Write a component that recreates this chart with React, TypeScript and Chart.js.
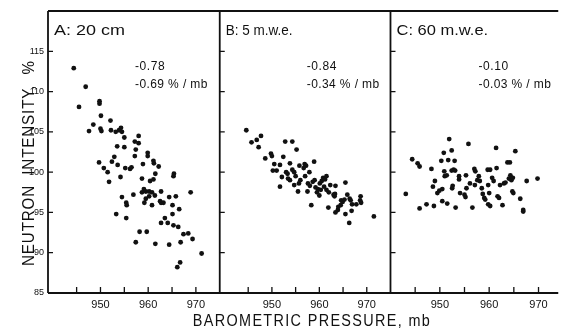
import React, { useEffect, useRef } from 'react';
import { Chart, registerables } from 'chart.js';

Chart.register(...registerables);

// ---- Data ----
const panelIds = ['xA', 'xB', 'xC'];
const panelLabels = ['A: 20 cm', 'B: 5 m.w.e.', 'C: 60 m.w.e.'];
const correlations = ['-0.78', '-0.84', '-0.10'];
const slopes = ['-0.69 % / mb', '-0.34 % / mb', '-0.03 % / mb'];
const xMins = [939, 939, 940];
const xMaxs = [975, 975, 974];
const panelWeights = [173, 172, 169];
const xLabelTicks = [950, 960, 970];
const xMarkTicks = [945, 950, 955, 960, 965, 970];
const yTicks = [85, 90, 95, 100, 105, 110, 115];
const yMin = 85;
const yMax = 120;
const xTitle = 'BAROMETRIC PRESSURE, mb';
const yTitle = 'NEUTRON  INTENSITY,  %';

const pressureA = [944.4, 945.5, 946.9, 947.6, 948.5, 949.8, 949.8, 950.1, 950.0, 950.2, 949.7, 950.7, 951.5, 951.8, 952.1, 952.2, 952.4, 952.9, 953.3, 953.5, 953.6, 953.2, 953.9, 954.3, 954.5, 954.2, 954.5, 955.0, 955.0, 955.2, 955.4, 955.5, 955.4, 956.2, 956.5, 956.9, 957.2, 957.2, 957.4, 957.4, 958.0, 958.0, 958.2, 958.7, 958.9, 958.7, 959.1, 959.5, 959.5, 959.2, 959.7, 959.9, 959.9, 960.2, 960.2, 960.4, 960.8, 960.8, 961.1, 961.2, 961.1, 961.5, 961.4, 961.5, 962.2, 962.5, 962.7, 962.7, 962.7, 963.2, 963.5, 964.1, 964.4, 964.4, 965.1, 965.1, 965.3, 965.4, 965.3, 965.8, 966.3, 966.1, 966.7, 966.5, 966.8, 967.4, 968.4, 968.9, 969.3, 971.2];
const intensityA = [112.9, 108.1, 110.6, 105.1, 105.9, 108.8, 108.5, 107.0, 105.4, 105.1, 101.2, 100.5, 100.0, 98.8, 106.4, 105.2, 101.3, 101.9, 94.8, 103.2, 100.9, 105.0, 105.2, 105.5, 105.0, 99.4, 96.9, 104.3, 103.1, 100.5, 96.2, 95.9, 94.3, 100.4, 100.6, 97.2, 103.8, 102.0, 102.8, 91.3, 104.5, 103.6, 92.6, 97.5, 101.0, 99.2, 97.9, 97.6, 96.7, 96.2, 92.6, 102.4, 102.0, 97.6, 97.0, 98.9, 97.5, 95.9, 101.4, 101.1, 99.1, 99.8, 97.1, 91.1, 100.7, 96.4, 96.2, 97.6, 93.7, 96.2, 94.3, 93.7, 96.9, 91.0, 95.9, 94.8, 99.5, 99.8, 93.4, 97.0, 93.2, 88.2, 88.8, 95.4, 91.3, 92.3, 92.4, 97.5, 91.7, 89.9];

const pressureB = [944.6, 945.7, 946.8, 947.7, 947.2, 948.6, 949.8, 950.0, 950.2, 951.0, 951.7, 952.4, 952.8, 954.3, 955.2, 953.8, 953.0, 953.3, 952.1, 951.7, 953.4, 954.3, 954.7, 954.7, 955.5, 955.7, 956.9, 957.2, 956.7, 957.9, 958.9, 957.6, 957.5, 958.3, 958.6, 959.2, 959.5, 959.7, 960.1, 960.5, 960.8, 961.2, 961.5, 960.0, 961.5, 961.9, 962.3, 963.0, 963.2, 963.3, 963.4, 963.9, 964.0, 963.4, 964.6, 964.9, 965.3, 965.5, 965.9, 966.4, 966.6, 965.5, 966.3, 966.8, 966.9, 967.8, 968.6, 968.7, 968.8, 971.5, 955.0, 956.0, 958.0, 959.0, 960.3, 961.0, 962.0, 964.5, 950.5, 953.8, 955.8, 957.0];
const intensityB = [105.2, 103.7, 104.0, 104.5, 103.1, 101.7, 102.3, 102.0, 100.2, 100.2, 100.9, 101.9, 103.8, 103.8, 102.8, 101.1, 100.0, 99.8, 99.4, 98.2, 99.2, 100.3, 100.0, 98.4, 97.6, 98.6, 101.0, 100.8, 100.5, 100.0, 101.3, 98.6, 97.6, 95.9, 98.8, 98.1, 97.5, 97.9, 98.6, 98.9, 99.3, 99.1, 99.5, 97.1, 97.8, 95.6, 98.4, 97.2, 97.0, 97.3, 98.3, 95.3, 95.7, 95.0, 96.5, 96.3, 96.6, 98.7, 97.2, 96.7, 96.5, 94.8, 93.7, 95.2, 96.0, 96.0, 96.5, 97.0, 96.2, 94.5, 99.5, 99.0, 98.3, 99.0, 97.8, 98.2, 97.5, 95.9, 101.0, 99.0, 100.8, 99.5];

const pressureC = [943.1, 944.4, 945.5, 945.9, 945.9, 947.3, 948.3, 948.8, 948.6, 949.0, 949.5, 949.9, 950.3, 950.8, 950.5, 950.5, 950.9, 951.0, 951.4, 951.5, 951.9, 951.7, 952.4, 952.4, 952.8, 953.1, 952.6, 952.5, 953.0, 953.2, 953.9, 953.9, 954.1, 955.0, 955.2, 955.3, 955.8, 955.4, 956.1, 956.6, 957.0, 957.2, 957.1, 957.6, 957.9, 958.1, 958.5, 958.7, 959.0, 959.2, 959.7, 960.2, 959.8, 960.2, 959.8, 960.0, 960.6, 960.9, 961.4, 961.5, 961.7, 962.0, 962.2, 962.7, 963.0, 963.3, 963.7, 964.2, 964.0, 964.3, 964.5, 964.7, 964.9, 965.3, 964.8, 966.3, 966.9, 966.9, 967.6, 969.8];
const intensityC = [97.3, 101.6, 101.1, 100.7, 95.5, 96.0, 100.4, 95.8, 98.2, 98.9, 97.4, 97.7, 101.4, 102.4, 97.9, 96.4, 100.1, 99.5, 99.6, 96.1, 104.1, 101.5, 102.7, 100.2, 100.3, 100.2, 98.3, 98.0, 101.4, 95.6, 99.1, 99.5, 97.4, 97.2, 96.9, 99.6, 103.5, 98.0, 98.6, 95.6, 100.4, 100.1, 98.4, 99.0, 99.5, 98.9, 98.0, 97.3, 96.8, 96.6, 100.3, 100.3, 96.0, 95.8, 98.4, 97.4, 99.3, 98.9, 103.0, 100.5, 97.0, 96.8, 98.4, 95.9, 98.6, 98.7, 101.2, 101.2, 99.2, 99.6, 99.0, 97.6, 97.4, 102.6, 99.3, 96.7, 95.3, 95.1, 98.9, 99.2];

const pressures = [pressureA, pressureB, pressureC];
const intensities = [intensityA, intensityB, intensityC];

const INK = '#111111';
const labelScaleX = [1.2, 0.9, 1.1];

function drawText(
  ctx: CanvasRenderingContext2D,
  text: string,
  x: number,
  y: number,
  font: string,
  opts: { align?: CanvasTextAlign; scaleX?: number; rotate?: number; spacing?: number } = {}
) {
  ctx.save();
  ctx.font = font;
  ctx.fillStyle = INK;
  ctx.textBaseline = 'alphabetic';
  ctx.textAlign = opts.align || 'left';
  try {
    (ctx as any).letterSpacing = (opts.spacing || 0) + 'px';
  } catch (e) {}
  ctx.translate(x, y);
  if (opts.rotate) ctx.rotate(opts.rotate);
  ctx.scale(opts.scaleX || 1, 1);
  ctx.fillText(text, 0, 0);
  ctx.restore();
}

const framePlugin = {
  id: 'framePlugin',
  afterDraw(chart: any) {
    const ctx: CanvasRenderingContext2D = chart.ctx;
    const area = chart.chartArea;
    const yScale = chart.scales.y;
    ctx.save();
    ctx.strokeStyle = INK;
    ctx.lineWidth = 1.8;
    ctx.beginPath();
    ctx.moveTo(area.left, area.top);
    ctx.lineTo(area.right, area.top);
    ctx.moveTo(area.left, area.bottom);
    ctx.lineTo(area.right, area.bottom);
    panelIds.forEach((id) => {
      const s = chart.scales[id];
      ctx.moveTo(s.left, area.top);
      ctx.lineTo(s.left, area.bottom);
    });
    ctx.stroke();

    ctx.lineWidth = 1.3;
    ctx.beginPath();
    panelIds.forEach((id) => {
      const s = chart.scales[id];
      yTicks.forEach((v) => {
        const py = yScale.getPixelForValue(v);
        if (v === yMin) return;
        ctx.moveTo(s.left, py);
        ctx.lineTo(s.left + 5, py);
      });
      xMarkTicks.forEach((v) => {
        const px = s.getPixelForValue(v);
        ctx.moveTo(px, area.bottom);
        ctx.lineTo(px, area.bottom - 6);
      });
    });
    ctx.stroke();
    ctx.restore();

    panelIds.forEach((id, i) => {
      const s = chart.scales[id];
      drawText(ctx, panelLabels[i], s.left + 6, area.top + 24, '15px "Liberation Sans"', { scaleX: labelScaleX[i] });
      const tx = s.left + (i === 2 ? 88 : 87);
      drawText(ctx, correlations[i], tx, area.top + 59, '12px "Liberation Sans"', { spacing: 0.6 });
      drawText(ctx, slopes[i], tx, area.top + 77, '12px "Liberation Sans"', { spacing: 0.4 });
    });

    drawText(ctx, xTitle, 312, 326, '16px "Liberation Sans"', { align: 'center', scaleX: 0.9, spacing: 1.5 });
    drawText(ctx, yTitle, 34, 163, '17px "Liberation Sans"', { align: 'center', rotate: -Math.PI / 2, scaleX: 0.89, spacing: 1 });
  },
};

export default function App() {
  const canvasRef = useRef<HTMLCanvasElement | null>(null);

  useEffect(() => {
    document.body.style.margin = '0';
    const canvas = canvasRef.current;
    if (!canvas) return;

    const datasets = panelIds.map((id, i) => ({
      label: panelLabels[i],
      data: pressures[i].map((p, k) => ({ x: p, y: intensities[i][k] })),
      xAxisID: id,
      yAxisID: 'y',
      backgroundColor: INK,
      borderWidth: 0,
      pointRadius: 2.4,
      pointHoverRadius: 2.4,
      showLine: false,
    }));

    const scales: any = {
      y: {
        type: 'linear',
        position: 'left',
        min: yMin,
        max: yMax,
        afterBuildTicks: (s: any) => {
          s.ticks = yTicks.map((v) => ({ value: v }));
        },
        afterFit: (s: any) => {
          s.width = 48;
        },
        grid: { display: false, drawTicks: false },
        border: { display: false },
        ticks: {
          color: INK,
          padding: 4,
          font: { family: 'Liberation Sans', size: 9 },
          callback: (v: any) => String(v),
        },
      },
    };
    panelIds.forEach((id, i) => {
      scales[id] = {
        type: 'linear',
        position: 'bottom',
        stack: 'panels',
        stackWeight: panelWeights[i],
        min: xMins[i],
        max: xMaxs[i],
        afterBuildTicks: (s: any) => {
          s.ticks = xLabelTicks.map((v) => ({ value: v }));
        },
        afterFit: (s: any) => {
          s.height = 37;
        },
        grid: { display: false, drawTicks: false },
        border: { display: false },
        ticks: {
          color: INK,
          padding: 5,
          maxRotation: 0,
          font: { family: 'Liberation Sans', size: 11 },
          callback: (v: any) => String(v),
        },
      };
    });

    const chart = new Chart(canvas, {
      type: 'scatter',
      data: { datasets },
      options: {
        animation: false,
        responsive: false,
        devicePixelRatio: 1,
        layout: { padding: { top: 11, right: 0, bottom: 0, left: 0 } },
        plugins: { legend: { display: false }, tooltip: { enabled: false }, title: { display: false } },
        scales,
      },
      plugins: [framePlugin],
    } as any);

    return () => chart.destroy();
  }, []);

  return (
    <div style={{ position: 'fixed', left: 0, top: 0, width: 562, height: 330, background: '#fff' }}>
      <canvas ref={canvasRef} width={562} height={330} />
    </div>
  );
}
